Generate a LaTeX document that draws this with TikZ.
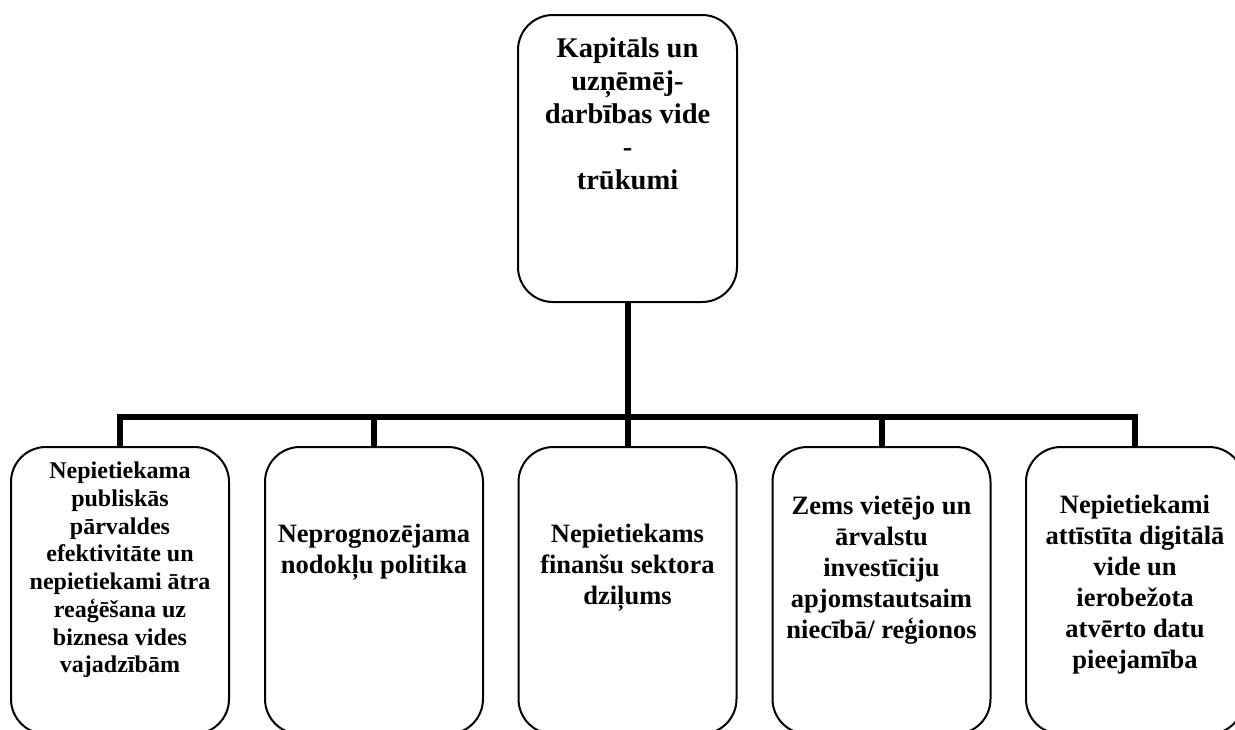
\documentclass[tikz,border=0pt]{standalone}
\usepackage{fontspec}
\setmainfont{Liberation Serif}
\begin{document}
\begin{tikzpicture}[x=1pt,y=-1pt,
  box/.style={draw=black,line width=2pt,rounded corners=35pt,fill=white,inner sep=0pt},
  topbox/.style={box,minimum width=219pt,minimum height=287pt},
  botbox/.style={box,minimum width=218pt,minimum height=287pt},
  txt/.style={align=center,inner sep=0pt,font=\bfseries\fontsize{26.5}{31}\selectfont},
  txtsmall/.style={align=center,inner sep=0pt,font=\bfseries\fontsize{24}{27.7}\selectfont},
  txttop/.style={align=center,inner sep=0pt,font=\bfseries\fontsize{28.5}{33}\selectfont},
  conn/.style={line width=6pt,line join=miter,line cap=butt}]
\useasboundingbox (0,0) rectangle (1235,729);
\fill[white] (0,0) rectangle (1235,729);
\node[topbox] (top) at (627.5,158.5) {};
\node[botbox] (b1) at (120,590.5) {};
\node[botbox] (b2) at (374,590.5) {};
\node[botbox] (b3) at (627.5,590.5) {};
\node[botbox] (b4) at (881.5,590.5) {};
\node[botbox] (b5) at (1135,590.5) {};
\coordinate (bar) at (627.5,417);
\draw[conn] (top.south) -- (bar);
\draw[conn] (b1.north) |- (bar) -| (b5.north);
\draw[conn] (b2.north) -- (b2.north |- bar);
\draw[conn] (b3.north) -- (b3.north |- bar);
\draw[conn] (b4.north) -- (b4.north |- bar);
\node[txttop] (ttop) at (627.5,114) {Kapitāls un\\uzņēmēj-\\darbības vide\\-\\trūkumi};
\node[txtsmall] (t1) at (120,570) {Nepietiekama\\publiskās\\pārvaldes\\efektivitāte un\\nepietiekami ātra\\reaģēšana uz\\biznesa vides\\vajadzībām};
\node[txt] (t2) at (374,552.5) {Neprognozējama\\nodokļu politika};
\node[txt] (t3) at (627.5,568) {Nepietiekams\\finanšu sektora\\dziļums};
\node[txt] (t4) at (881.5,570) {Zems vietējo un\\ārvalstu\\investīciju\\apjomstautsaim\\niecībā/ reģionos};
\node[txt] (t5) at (1135,584.5) {Nepietiekami\\attīstīta digitālā\\vide un\\ierobežota\\atvērto datu\\pieejamība};
\end{tikzpicture}
\end{document}
